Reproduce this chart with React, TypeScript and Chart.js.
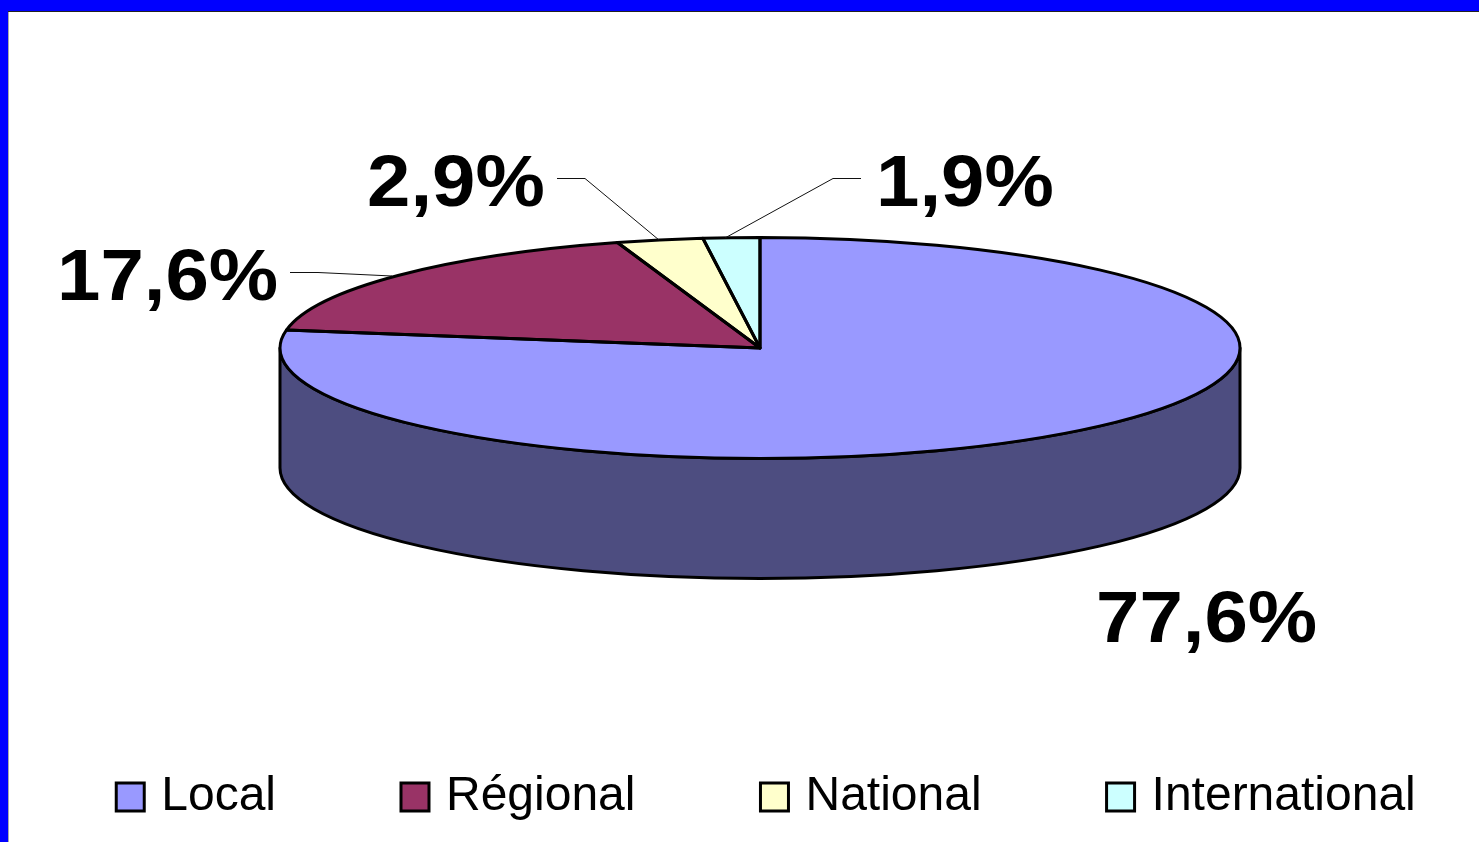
import React, { useEffect, useRef } from "react";
import { Chart, registerables } from "chart.js";

Chart.register(...registerables);

const categories = ["Local", "Régional", "National", "International"];
const shares = [77.6, 17.6, 2.9, 1.9];
const sliceColors = ["#9999FF", "#993366", "#FFFFCC", "#CCFFFF"];

const WIDTH = 1479;
const HEIGHT = 842;
const RADIUS_X = 480;
const RADIUS_Y = 110.5;
const DEPTH = 120;
const EDGE = 3;
const FONT = '"Liberation Sans", Arial, sans-serif';

// Label placement for each slice, in the same order as the categories.
const labelAnchors = [
  { x: 1096, y: 642, leader: [] as number[][] },
  { x: 57, y: 300, leader: [[290, 272.5], [318, 272.5], [392, 276]] },
  { x: 367, y: 205.5, leader: [[557, 178.5], [585, 178.5], [659, 240]] },
  { x: 876, y: 205.5, leader: [[861, 178.5], [833, 178.5], [725, 238]] },
];

const darken = (hex: string) => {
  const n = parseInt(hex.slice(1), 16);
  const part = (v: number) => Math.round(v * 0.5);
  return `rgb(${part((n >> 16) & 255)},${part((n >> 8) & 255)},${part(n & 255)})`;
};

const pie3d = {
  id: "pie3d",
  afterLayout(chart: any) {
    // The pie sits right of the page centre, as in the reference.
    chart.chartArea.left = 41;
    chart.chartArea.right = WIDTH;
    chart.chartArea.width = WIDTH - 41;
  },
  beforeDraw(chart: any) {
    const { ctx } = chart;
    ctx.save();
    ctx.fillStyle = "#FFFFFF";
    ctx.fillRect(0, 0, WIDTH, HEIGHT);
    ctx.fillStyle = "#0000FF";
    ctx.fillRect(0, 0, WIDTH, 11);
    ctx.fillRect(0, 0, 8, HEIGHT);
    ctx.fillStyle = "#222222";
    ctx.fillRect(8, 11, WIDTH - 8, 1);
    ctx.fillStyle = "#AAAAAA";
    ctx.fillRect(8, 12, 1, HEIGHT - 12);
    ctx.restore();
  },
  beforeDatasetsDraw(chart: any) {
    const { ctx } = chart;
    const arcs = chart.getDatasetMeta(0).data;
    const { x: cx, y: cy } = arcs[0];
    ctx.save();
    ctx.lineWidth = EDGE;
    ctx.strokeStyle = "#000000";
    ctx.lineJoin = "round";
    arcs.forEach((arc: any, i: number) => {
      [0, -2 * Math.PI].forEach((shift) => {
        const a = Math.max(arc.startAngle + shift, 0);
        const b = Math.min(arc.endAngle + shift, Math.PI);
        if (b <= a) return;
        ctx.beginPath();
        ctx.ellipse(cx, cy + DEPTH, RADIUS_X, RADIUS_Y, 0, a, b);
        ctx.ellipse(cx, cy, RADIUS_X, RADIUS_Y, 0, b, a, true);
        ctx.closePath();
        ctx.fillStyle = darken(sliceColors[i]);
        ctx.fill();
        ctx.stroke();
      });
    });
    ctx.restore();
    // Flatten the library's round pie into the top face of the disc.
    ctx.save();
    ctx.translate(cx, cy);
    ctx.scale(1, RADIUS_Y / RADIUS_X);
    ctx.translate(-cx, -cy);
  },
  afterDatasetsDraw(chart: any) {
    const { ctx } = chart;
    ctx.restore();
    const arcs = chart.getDatasetMeta(0).data;
    const { x: cx, y: cy } = arcs[0];
    ctx.save();
    ctx.lineWidth = EDGE;
    ctx.strokeStyle = "#000000";
    ctx.lineJoin = "round";
    arcs.forEach((arc: any) => {
      ctx.beginPath();
      ctx.moveTo(cx, cy);
      ctx.ellipse(cx, cy, RADIUS_X, RADIUS_Y, 0, arc.startAngle, arc.endAngle);
      ctx.closePath();
      ctx.stroke();
    });
    ctx.fillStyle = "#000000";
    ctx.font = `bold 73px ${FONT}`;
    ctx.textAlign = "left";
    ctx.textBaseline = "alphabetic";
    shares.forEach((value, i) => {
      const anchor = labelAnchors[i];
      ctx.save();
      ctx.translate(anchor.x, anchor.y);
      ctx.scale(78 / 73, 1);
      ctx.fillText(`${value.toFixed(1).replace(".", ",")}%`, 0, 0);
      ctx.restore();
      if (anchor.leader.length) {
        ctx.beginPath();
        ctx.lineWidth = 1;
        ctx.strokeStyle = "#111111";
        anchor.leader.forEach(([x, y], k) => (k ? ctx.lineTo(x, y) : ctx.moveTo(x, y)));
        ctx.stroke();
      }
    });
    ctx.restore();
  },
};

export default function App() {
  const ref = useRef<HTMLCanvasElement>(null);
  useEffect(() => {
    const chart = new Chart(ref.current as HTMLCanvasElement, {
      type: "pie",
      data: {
        labels: categories,
        datasets: [
          {
            data: shares,
            backgroundColor: sliceColors,
            borderWidth: 0,
            clip: false,
            radius: RADIUS_X,
          } as any,
        ],
      },
      options: {
        animation: false,
        responsive: false,
        layout: { padding: { left: -30.5, right: -90.5, top: 55, bottom: 11 } },
        plugins: {
          tooltip: { enabled: false },
          legend: {
            position: "bottom",
            labels: {
              usePointStyle: true,
              boxWidth: 14,
              boxHeight: 28,
              padding: 132,
              color: "#000000",
              font: { family: FONT, size: 48 },
              generateLabels: () =>
                categories.map((text, i) => ({
                  text,
                  index: i,
                  hidden: false,
                  fillStyle: sliceColors[i],
                  strokeStyle: "#000000",
                  lineWidth: 3,
                  pointStyle: "rect",
                })),
            },
          },
        },
      } as any,
      plugins: [pie3d],
    });
    return () => chart.destroy();
  }, []);
  return (
    <canvas
      ref={ref}
      width={WIDTH}
      height={HEIGHT}
      style={{ position: "absolute", left: 0, top: 0, display: "block" }}
    />
  );
}
